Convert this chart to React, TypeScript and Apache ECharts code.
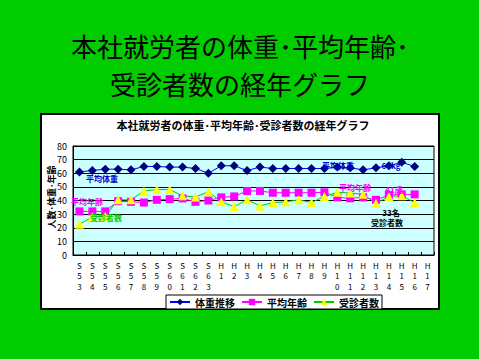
import React, { useEffect, useRef } from "react";
import * as echarts from "echarts";

const categories = [
  "S53","S54","S55","S56","S57","S58","S59","S60","S61","S62","S63",
  "H1","H2","H3","H4","H5","H6","H7","H8","H9","H10","H11","H12","H13","H14","H15","H16","H17",
];
const weight = [61, 62, 63, 63, 62.5, 65, 65, 64.5, 64.5, 63.5, 60, 65.5, 65.5, 62, 64.5, 63.5, 63.5, 63.5, 63.5, 63.5, 64.5, 64, 62.5, 64, 65.5, 68, 65, null];
const age = [32, 32, 32, 39.5, 39, 38.5, 40.5, 41, 41.5, 39, 40, 42.3, 43, 47, 47, 45.7, 45.7, 45.7, 45.7, 46, 42.3, 41.6, 42.3, 40.5, 44, 44.5, 44.5, null];
const exam = [22.5, 28, 28.5, 40.5, 40.5, 47, 48, 48, 43.5, 42.5, 46.5, 39, 35.5, 40.5, 36, 38.5, 39, 40.5, 38.5, 43, 46, 45.5, 44.5, 38, 43, 43.5, 38.5, null];
const seriesNames = ["体重推移", "平均年齢", "受診者数"];

const FONT = "'Noto Sans CJK JP', 'Noto Sans', sans-serif";

function vertLabel(c: string) {
  const m = c.match(/^([SH])(\d+)$/);
  if (!m) return c;
  return [m[1], ...m[2].split("")].join("\n");
}

export default function App() {
  const ref = useRef<HTMLDivElement>(null);
  useEffect(() => {
    if (!ref.current) return;
    const chart = echarts.init(ref.current, null, { renderer: "svg" });
    const txt = (text: string, x: number, y: number, fill: string, size = 9, extra: any = {}) => ({
      type: "text",
      x, y,
      style: { text, fill, font: `bold ${size}px ${FONT}`, align: "center", verticalAlign: "middle" },
      z: 100,
      ...extra,
    });
    chart.setOption({
      animation: false,
      backgroundColor: "#00CC00",
      textStyle: { fontFamily: FONT },
      graphic: [
        { type: "rect", shape: { x: 41, y: 114, width: 398, height: 195 }, style: { fill: "#FFFFFF", stroke: "#000000", lineWidth: 2 }, z: -10 },
        { type: "text", x: 240, y: 45, style: { text: "本社就労者の体重･平均年齢･", fill: "#000", font: `normal 26px ${FONT}`, align: "center", verticalAlign: "middle" } },
        { type: "text", x: 240, y: 83, style: { text: "受診者数の経年グラフ", fill: "#000", font: `normal 26px ${FONT}`, align: "center", verticalAlign: "middle" } },
        txt("本社就労者の体重･平均年齢･受診者数の経年グラフ", 243, 125, "#000", 11),
        txt("人数･体重･年齢", 51, 197, "#000", 9, { rotation: Math.PI / 2 }),
        txt("平均体重", 102, 178, "#0000CC", 8),
        txt("平均年齢", 87, 201, "#FF00FF", 8),
        txt("受診者数", 106, 217, "#00CC00", 8),
        txt("平均体重", 338, 165, "#0000CC", 8),
        txt("64kg", 391, 165, "#0000CC", 8),
        txt("平均年齢", 355, 187, "#FF00FF", 8),
        txt("41歳", 394, 189, "#FF00FF", 8),
        txt("33名", 391, 212, "#000", 8),
        txt("受診者数", 387, 222, "#000", 8),
      ],
      legend: {
        left: 166,
        top: 295,
        data: seriesNames,
        itemWidth: 20,
        itemHeight: 8,
        itemGap: 6,
        padding: [2, 3],
        backgroundColor: "#FFFFFF",
        borderColor: "#000000",
        borderWidth: 1,
        textStyle: { fontSize: 10, fontWeight: "bold", color: "#000", fontFamily: FONT },
      },
      grid: {
        left: 73, right: 45, top: 146, bottom: 104,
        show: true, backgroundColor: "#CCFFFF", borderColor: "#000", borderWidth: 1,
        containLabel: false,
      },
      xAxis: {
        type: "category",
        data: categories,
        boundaryGap: true,
        axisLine: { lineStyle: { color: "#000", width: 1 } },
        axisTick: { show: true, inside: true, length: 3, interval: 0, lineStyle: { color: "#000" } },
        axisLabel: {
          interval: 0,
          formatter: (v: string) => vertLabel(v),
          fontSize: 8,
          lineHeight: 10.5,
          color: "#000",
          margin: 5,
          fontFamily: FONT,
        },
      },
      yAxis: {
        type: "value",
        min: 0, max: 80, interval: 10,
        axisLine: { show: true, lineStyle: { color: "#000" } },
        axisTick: { show: false },
        splitLine: { lineStyle: { color: "#000", width: 1 } },
        axisLabel: { fontSize: 9, color: "#000", margin: 6, fontFamily: FONT },
      },
      series: [
        {
          name: seriesNames[0], type: "line", data: weight,
          symbol: "diamond", symbolSize: 9,
          lineStyle: { color: "#0000FF", width: 1 },
          itemStyle: { color: "#000080" },
        },
        {
          name: seriesNames[1], type: "line", data: age,
          symbol: "rect", symbolSize: 8,
          lineStyle: { color: "#FF00FF", width: 1 },
          itemStyle: { color: "#FF00FF" },
        },
        {
          name: seriesNames[2], type: "line", data: exam,
          symbol: "triangle", symbolSize: 9,
          lineStyle: { color: "#00CC00", width: 1 },
          itemStyle: { color: "#FFFF00" },
        },
      ],
    });
    return () => chart.dispose();
  }, []);
  return (
    <div
      ref={ref}
      style={{ position: "fixed", left: 0, top: 0, width: 479, height: 359 }}
    />
  );
}
